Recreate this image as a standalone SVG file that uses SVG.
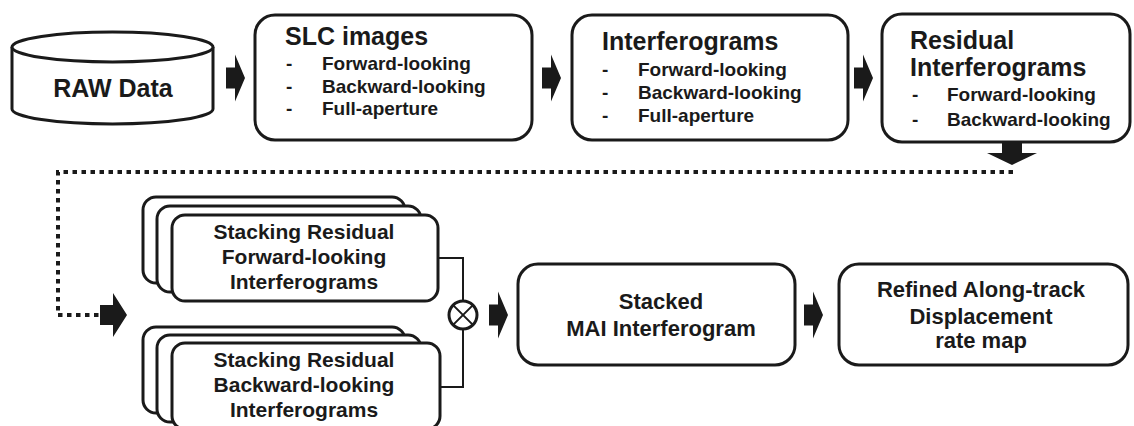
<svg xmlns="http://www.w3.org/2000/svg" xmlns:xlink="http://www.w3.org/1999/xlink" width="1134" height="426" viewBox="0 0 1134 426">
  <style>
    text { font-family: "Liberation Sans", Arial, Helvetica, sans-serif; font-weight: bold; fill: #1a1a1a; }
    .box { fill: #fff; stroke: #1a1a1a; stroke-width: 3; }
    .title { font-size: 25px; }
    .item { font-size: 19px; }
    .card { font-size: 21px; text-anchor: middle; }
    .big { font-size: 22px; text-anchor: middle; }
    .line { fill: none; stroke: #1a1a1a; stroke-width: 2; }
    .dots { fill: none; stroke: #1a1a1a; stroke-width: 4; stroke-dasharray: 4.5 4.5; }
    .arrow { fill: #1a1a1a; }
  </style>
  <defs>
    <!-- block arrow, tip at the origin, pointing right -->
    <path id="blockArrow" d="M-19,-10.5 H-10 V-23.5 L0,0 L-10,23.5 V10.5 H-19 Z"/>
  </defs>

  <!-- connectors -->
  <g id="connectors">
    <use xlink:href="#blockArrow" class="arrow" transform="translate(245,78)"/>
    <use xlink:href="#blockArrow" class="arrow" transform="translate(561,78)"/>
    <use xlink:href="#blockArrow" class="arrow" transform="translate(873,78)"/>
    <!-- downward arrow under the residual box -->
    <path class="arrow" d="M1002,142 H1022 V153 H1037 L1012,165 L987,153 H1002 Z"/>
    <!-- dotted return path -->
    <path class="dots" d="M1013,172 H58 V315 H100"/>
    <path class="arrow" d="M100,305 H113 V293 L127,315 L113,337 V325 H100 Z"/>
    <!-- merge of the two stacks -->
    <path class="line" d="M439,258 H463 V301"/>
    <path class="line" d="M441,387 H463 V329"/>
    <circle cx="463" cy="315" r="14" fill="#fff" stroke="#1a1a1a" stroke-width="3"/>
    <path class="line" stroke-width="3" d="M453.1,305.1 L472.9,324.9 M472.9,305.1 L453.1,324.9"/>
    <use xlink:href="#blockArrow" class="arrow" transform="translate(508,315)"/>
    <use xlink:href="#blockArrow" class="arrow" transform="translate(823,315)"/>
  </g>

  <!-- RAW data cylinder -->
  <g id="raw">
    <path class="box" d="M12,47 V109 A100.5,15 0 0 0 213,109 V47"/>
    <ellipse class="box" cx="112.5" cy="47" rx="100.5" ry="15"/>
    <text x="113" y="97" font-size="25" text-anchor="middle">RAW Data</text>
  </g>

  <g id="slc">
    <rect class="box" x="255" y="15" width="277" height="125" rx="20"/>
    <text class="title" x="285" y="45">SLC images</text>
    <text class="item" x="286" y="70">-</text>
    <text class="item" x="322" y="70">Forward-looking</text>
    <text class="item" x="286" y="93">-</text>
    <text class="item" x="322" y="93">Backward-looking</text>
    <text class="item" x="286" y="115">-</text>
    <text class="item" x="322" y="115">Full-aperture</text>
  </g>

  <g id="interferograms">
    <rect class="box" x="572" y="15" width="276" height="125" rx="20"/>
    <text class="title" x="602" y="50">Interferograms</text>
    <text class="item" x="602" y="76">-</text>
    <text class="item" x="638" y="76">Forward-looking</text>
    <text class="item" x="602" y="99">-</text>
    <text class="item" x="638" y="99">Backward-looking</text>
    <text class="item" x="602" y="122">-</text>
    <text class="item" x="638" y="122">Full-aperture</text>
  </g>

  <g id="residual">
    <rect class="box" x="882" y="14" width="248" height="128" rx="20"/>
    <text class="title" x="910" y="49">Residual</text>
    <text class="title" x="910" y="76">Interferograms</text>
    <text class="item" x="912" y="101">-</text>
    <text class="item" x="947" y="101">Forward-looking</text>
    <text class="item" x="912" y="126">-</text>
    <text class="item" x="947" y="126">Backward-looking</text>
  </g>

  <g id="stack-forward">
    <rect class="box" x="143" y="197" width="262" height="86" rx="13"/>
    <rect class="box" x="157" y="206" width="264" height="86" rx="13"/>
    <rect class="box" x="172" y="215" width="266" height="86" rx="13"/>
    <text class="card" x="304" y="239">Stacking Residual</text>
    <text class="card" x="304" y="264">Forward-looking</text>
    <text class="card" x="304" y="289">Interferograms</text>
  </g>

  <g id="stack-backward">
    <rect class="box" x="143" y="327" width="262" height="86" rx="13"/>
    <rect class="box" x="157" y="335" width="264" height="87" rx="13"/>
    <rect class="box" x="172" y="343" width="268" height="86" rx="13"/>
    <text class="card" x="304" y="367">Stacking Residual</text>
    <text class="card" x="304" y="392">Backward-looking</text>
    <text class="card" x="304" y="417">Interferograms</text>
  </g>

  <g id="stacked-mai">
    <rect class="box" x="518" y="264" width="277" height="101" rx="20"/>
    <text class="big" x="661" y="309">Stacked</text>
    <text class="big" x="661" y="336">MAI Interferogram</text>
  </g>

  <g id="refined">
    <rect class="box" x="839" y="264" width="289" height="101" rx="20"/>
    <text class="big" x="981" y="297">Refined Along-track</text>
    <text class="big" x="981" y="324">Displacement</text>
    <text class="big" x="981" y="348">rate map</text>
  </g>
</svg>
